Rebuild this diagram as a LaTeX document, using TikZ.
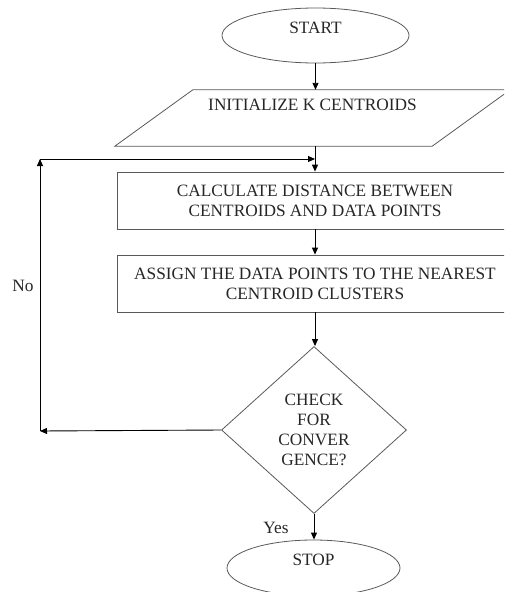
\documentclass[tikz,border=0pt]{standalone}
\usepackage{fontspec}
\setmainfont{Liberation Serif}
\usetikzlibrary{shapes.geometric,arrows.meta}
\begin{document}
\begin{tikzpicture}[x=1pt,y=-1pt,
  shapebox/.style={draw=black!65, line width=0.8pt},
  arr/.style={draw=black, line width=0.9pt, -{Triangle[length=7pt,width=6pt]}},
  txt/.style={font=\fontsize{17.3}{20}\selectfont, align=center, inner sep=0pt, text=black!85},
]
\useasboundingbox (0,0) rectangle (504,592);
\clip (0,0) rectangle (504,592);
% start
\node[shapebox, ellipse, minimum width=187pt, minimum height=55pt, inner sep=0pt,
      label={[txt, yshift=8pt]center:START}] (start) at (315.5,35.5) {};
% initialize (parallelogram)
\node[minimum width=395pt, minimum height=56pt, inner sep=0pt,
      label={[txt, yshift=13pt]center:INITIALIZE K CENTROIDS}] (init) at (312.5,118) {};
\draw[shapebox] (init.south west) -- ([xshift=-78pt]init.south east) -- (init.north east) -- ([xshift=78pt]init.north west) -- cycle;
% calc
\node[shapebox, minimum width=396pt, minimum height=57pt, inner sep=0pt, txt] (calc) at (315,200.5)
  {CALCULATE DISTANCE BETWEEN\\CENTROIDS AND DATA POINTS};
% assign
\node[shapebox, minimum width=396pt, minimum height=57pt, inner sep=0pt, txt] (assign) at (315,283.5)
  {ASSIGN THE DATA POINTS TO THE NEAREST\\CENTROID CLUSTERS};
% check
\node[shapebox, diamond, minimum width=185pt, minimum height=167pt, inner sep=0pt, txt] (check) at (314,430)
  {CHECK\\FOR\\CONVER\\GENCE?};
% stop
\node[shapebox, ellipse, minimum width=173pt, minimum height=56pt, inner sep=0pt,
      label={[txt, yshift=8pt]center:STOP}] (stop) at (313.5,568) {};
% connectors
\coordinate (corner) at (40,431);
\coordinate (top) at (40,159);
\draw[arr] (start.south) -- (start.south |- init.north);
\draw[arr] (calc.north |- init.south) -- (calc.north);
\draw[arr] (calc.south) -- (assign.north);
\draw[arr] (assign.south) -- (assign.south |- check.north);
\draw[arr] (check.south) -- (check.south |- stop.north);
\draw[arr] (check.west) -- (corner);
\draw[arr] (corner) -- (top);
\draw[arr] (top) -- (top -| calc.north);
% labels
\node[txt] (no) at (23,286) {No};
\node[txt] (yes) at (276,528) {Yes};
\end{tikzpicture}
\end{document}
